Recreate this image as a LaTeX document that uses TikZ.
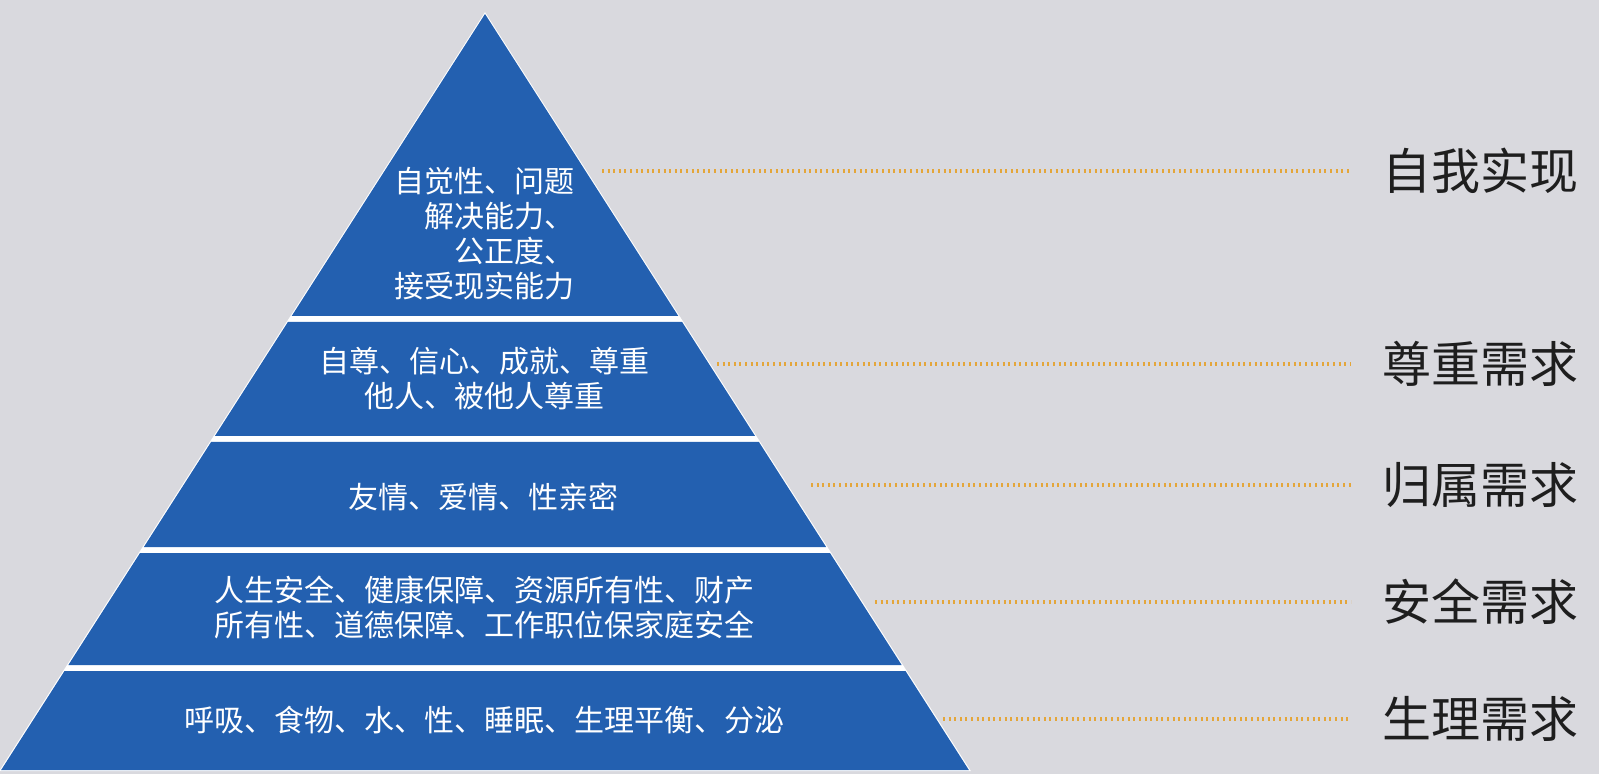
\documentclass[tikz,border=0pt]{standalone}
\usepackage{fontspec}
\setmainfont{Noto Sans CJK SC}
\definecolor{bg}{RGB}{217,217,222}
\definecolor{pyblue}{RGB}{35,96,176}
\definecolor{dotgold}{RGB}{228,166,58}
\definecolor{lbl}{RGB}{30,30,30}
\tikzset{
  band/.style={fill=pyblue},
  txt/.style={text=white, font=\fontsize{15pt}{17.5pt}\selectfont, inner sep=0pt},
  lab/.style={text=lbl, font=\fontsize{24.5pt}{28pt}\selectfont, anchor=west, inner sep=0pt},
  dots/.style={dotgold, line width=1.7pt, dash pattern=on 1pt off 1.8pt, shorten >=15.5pt},
}
\begin{document}
\begin{tikzpicture}[x=0.5pt,y=-0.5pt]
            \useasboundingbox (0,0) rectangle (1599,774);
            \fill[bg] (0,0) rectangle (1599,774);
            % pyramid outline and bands
            \draw[white, fill=white, line width=1pt] (485,14) -- (969,770) -- (1,770) -- cycle;
            \foreach \t/\b in {14/316, 322/436, 442/547, 553/665, 671/770}
              \fill[band] ({485-0.64*(\t-14)},\t) -- ({485+0.64*(\t-14)},\t)
                -- ({485+0.64*(\b-14)},\b) -- ({485-0.64*(\b-14)},\b) -- cycle;
            % texts in the bands
            \node[txt, align=right] (n1) at (484,233.5) {自觉性、问题\\解决能力、\\公正度、\\接受现实能力};
            \node[txt, align=center] (n2) at (484,378.5) {自尊、信心、成就、尊重\\他人、被他人尊重};
            \node[txt] (n3) at (483,497) {友情、爱情、性亲密};
            \node[txt, align=center] (n4) at (484,607.5) {人生安全、健康保障、资源所有性、财产\\所有性、道德保障、工作职位保家庭安全};
            \node[txt] (n5) at (484,720) {呼吸、食物、水、性、睡眠、生理平衡、分泌};
            % labels on the right
            \node[lab] (L1) at (1382,171) {自我实现};
            \node[lab] (L2) at (1382,364) {尊重需求};
            \node[lab] (L3) at (1382,485) {归属需求};
            \node[lab] (L4) at (1382,602) {安全需求};
            \node[lab] (L5) at (1382,719) {生理需求};
            \coordinate (d1) at (602,171);
            \coordinate (d2) at (717,364);
            \coordinate (d3) at (811,485);
            \coordinate (d4) at (875,602);
            \coordinate (d5) at (943,719);
            \draw[dots] (d1) -- (L1.west);
            \draw[dots] (d2) -- (L2.west);
            \draw[dots] (d3) -- (L3.west);
            \draw[dots] (d4) -- (L4.west);
            \draw[dots] (d5) -- (L5.west);
            \end{tikzpicture}
\end{document}
